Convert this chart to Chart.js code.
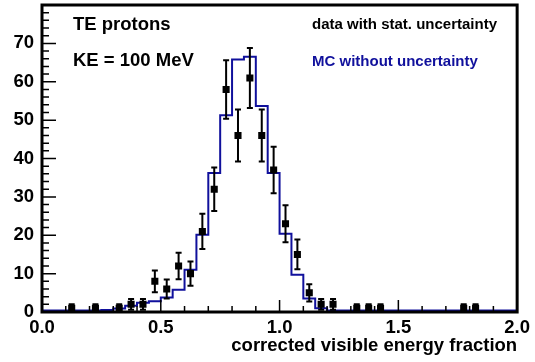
<!DOCTYPE html>
<html>
<head>
<meta charset="utf-8">
<script src="https://cdn.jsdelivr.net/npm/chart.js@4.4.1/dist/chart.umd.min.js"></script>
<style>
  html, body { margin: 0; padding: 0; background: #fff; }
  #wrap { width: 535px; height: 362px; }
</style>
</head>
<body>
<div id="wrap"><canvas id="chart" width="535" height="362"></canvas></div>
<script>
// MC histogram: lower bin edges and contents (bin width 0.05)
var binLow = [0.00, 0.05, 0.10, 0.15, 0.20, 0.25, 0.30, 0.35, 0.40, 0.45,
              0.50, 0.55, 0.60, 0.65, 0.70, 0.75, 0.80, 0.85, 0.90, 0.95,
              1.00, 1.05, 1.10, 1.15, 1.20, 1.25, 1.30, 1.35, 1.40, 1.45,
              1.50, 1.55, 1.60, 1.65, 1.70, 1.75, 1.80, 1.85, 1.90, 1.95];
var mcCounts = [0.4, 0.4, 0.4, 0.4, 0.4, 0.5, 0.9, 1.6, 2.4, 2.8,
                3.8, 5.8, 11.0, 20.1, 36.2, 51.3, 65.8, 66.5, 53.7, 36.2,
                20.4, 9.7, 3.5, 1.0, 0.4, 0.4, 0.4, 0.4, 0.4, 0.4,
                0.4, 0.4, 0.4, 0.4, 0.4, 0.4, 0.4, 0.4, 0.4, 0.4];
var histEnd = 2.0;

// measured data (bin centres), counts and stat. errors
var dataX = [0.125, 0.225, 0.325, 0.375, 0.425, 0.475, 0.525, 0.575, 0.625, 0.675,
             0.725, 0.775, 0.825, 0.875, 0.925, 0.975, 1.025, 1.075, 1.125, 1.175,
             1.225, 1.325, 1.375, 1.425, 1.775, 1.825];
var dataY = [1, 1, 1, 2, 2, 8, 6, 12, 10, 21,
             32, 58, 46, 61, 46, 37, 23, 15, 5, 2,
             2, 1, 1, 1, 1, 1];
var dataErr = [1.0, 1.0, 1.0, 1.41, 1.41, 2.83, 2.45, 3.46, 3.16, 4.58,
               5.66, 7.62, 6.78, 7.81, 6.78, 6.08, 4.80, 3.87, 2.24, 1.41,
               1.41, 1.0, 1.0, 1.0, 1.0, 1.0];

var xRange = [0, 2];
var yRange = [0, 80];
var xTitle = 'corrected visible energy fraction';
var notes = ['TE protons', 'KE = 100 MeV', 'data with stat. uncertainty', 'MC without uncertainty'];

var BLUE = '#10109c';
var FONT = "'Liberation Sans', Arial, Helvetica, sans-serif";

var mcPoints = binLow.map(function (x, i) { return { x: x, y: mcCounts[i] }; });
mcPoints.push({ x: histEnd, y: mcCounts[mcCounts.length - 1] });
var dataPoints = dataX.map(function (x, i) { return { x: x, y: dataY[i] }; });

/* ROOT-like frame, inward ticks, error bars and labels */
var rootStyle = {
  id: 'rootStyle',
  beforeDatasetDraw: function (chart, args) {
    if (args.index !== 0) return;
    var ctx = chart.ctx, xs = chart.scales.x, ys = chart.scales.y;
    ctx.save();
    ctx.strokeStyle = '#000';
    ctx.lineWidth = 2;
    dataX.forEach(function (x, i) {
      var px = xs.getPixelForValue(x);
      var lo = ys.getPixelForValue(dataY[i] - dataErr[i]);
      var hi = ys.getPixelForValue(dataY[i] + dataErr[i]);
      ctx.beginPath();
      ctx.moveTo(px, lo); ctx.lineTo(px, hi);
      ctx.moveTo(px - 3, lo); ctx.lineTo(px + 3, lo);
      ctx.moveTo(px - 3, hi); ctx.lineTo(px + 3, hi);
      ctx.stroke();
    });
    ctx.restore();
  },
  afterDraw: function (chart) {
    var ctx = chart.ctx, a = chart.chartArea, xs = chart.scales.x, ys = chart.scales.y;
    ctx.save();
    ctx.strokeStyle = '#000';
    ctx.lineWidth = 1.5;
    ctx.beginPath();
    for (var i = 0; i <= 20; i++) {
      var px = xs.getPixelForValue(i * 0.1);
      var len = (i % 5 === 0) ? 12 : 6;
      ctx.moveTo(px, a.bottom); ctx.lineTo(px, a.bottom - len);
    }
    for (var j = 0; j <= 40; j++) {
      var py = ys.getPixelForValue(j * 2);
      var ln = (j % 5 === 0) ? 14 : 7;
      ctx.moveTo(a.left, py); ctx.lineTo(a.left + ln, py);
    }
    ctx.stroke();

    ctx.lineWidth = 3;
    ctx.strokeRect(a.left, a.top, a.right - a.left, a.bottom - a.top);

    ctx.textBaseline = 'alphabetic';
    ctx.textAlign = 'left';
    ctx.fillStyle = '#000';
    ctx.font = 'bold 18.5px ' + FONT;
    ctx.fillText(notes[0], 73, 29.5);
    ctx.fillText(notes[1], 73, 65.5);
    ctx.font = 'bold 15px ' + FONT;
    ctx.fillText(notes[2], 312, 29);
    ctx.fillStyle = BLUE;
    ctx.fillText(notes[3], 312, 65.5);
    ctx.restore();
  }
};

new Chart(document.getElementById('chart'), {
  type: 'scatter',
  data: {
    datasets: [{
      label: 'data',
      data: dataPoints,
      pointStyle: 'rect',
      pointRadius: 5,
      pointHoverRadius: 5,
      borderWidth: 0,
      backgroundColor: '#000',
      borderColor: '#000'
    }, {
      label: 'MC',
      type: 'line',
      data: mcPoints,
      stepped: true,
      borderColor: BLUE,
      borderWidth: 2,
      pointRadius: 0,
      fill: false
    }]
  },
  options: {
    responsive: false,
    animation: false,
    devicePixelRatio: 1,
    layout: { padding: { left: 0, right: 15, top: 4, bottom: 0 } },
    plugins: { legend: { display: false }, tooltip: { enabled: false } },
    scales: {
      x: {
        type: 'linear',
        min: xRange[0],
        max: xRange[1],
        grid: { display: false, drawTicks: false },
        border: { display: false },
        ticks: {
          stepSize: 0.5,
          padding: 5,
          color: '#000',
          font: { family: FONT, size: 18.5, weight: 'bold' },
          maxRotation: 0,
          callback: function (v) { return v.toFixed(1); }
        },
        title: {
          display: true,
          text: xTitle,
          align: 'end',
          color: '#000',
          padding: { top: 0, bottom: 5 },
          font: { family: FONT, size: 18.5, weight: 'bold' }
        },
        afterFit: function (s) { s.height = 50; }
      },
      y: {
        type: 'linear',
        min: yRange[0],
        max: yRange[1],
        grid: { display: false, drawTicks: false },
        border: { display: false },
        ticks: {
          stepSize: 10,
          padding: 8,
          color: '#000',
          font: { family: FONT, size: 18.5, weight: 'bold' }
        },
        afterBuildTicks: function (s) {
          s.ticks = s.ticks.filter(function (t) { return t.value < yRange[1]; });
        },
        afterFit: function (s) {
          s.width = 42;
          s.paddingTop = 0;
          s.paddingBottom = 0;
        }
      }
    }
  },
  plugins: [rootStyle]
});
</script>
</body>
</html>
